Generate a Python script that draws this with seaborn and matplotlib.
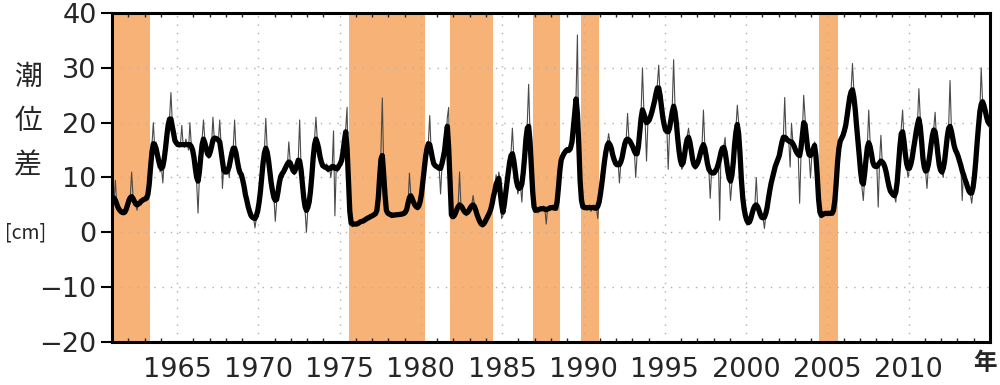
import numpy as np
import pandas as pd
import matplotlib
matplotlib.use("Agg")
import matplotlib.pyplot as plt
import seaborn as sns

# monthly tide level difference [cm], one row per year, Jan..Dec
v1961_1969 = [
    [6.5, 6.0, 9.5, 5.0, 4.5, 4.0, 3.8, 3.5, 3.6, 3.4, 4.0, 5.0],
    [6.0, 6.5, 11.0, 6.5, 5.5, 5.0, 4.0, 5.5, 5.0, 5.5, 6.0, 6.0],
    [6.0, 6.2, 6.5, 8.0, 12.0, 16.0, 20.0, 15.5, 16.5, 13.0, 14.0, 11.0],
    [12.0, 9.0, 13.0, 15.0, 18.0, 20.0, 21.0, 25.5, 20.0, 17.0, 16.0, 17.0],
    [16.0, 15.5, 16.0, 19.5, 16.0, 15.5, 17.0, 16.0, 15.0, 20.0, 16.0, 15.0],
    [14.0, 12.0, 9.0, 3.5, 10.0, 14.0, 17.0, 20.5, 17.0, 15.0, 14.0, 13.5],
    [14.0, 16.0, 21.0, 17.0, 17.5, 17.0, 16.5, 20.5, 16.0, 8.0, 12.0, 11.0],
    [11.0, 12.0, 10.0, 13.0, 15.0, 15.5, 20.5, 15.0, 13.0, 11.0, 11.0, 10.5],
    [10.0, 8.0, 7.0, 5.5, 5.0, 3.5, 3.0, 2.5, 2.8, 0.8, 2.5, 4.0],
]
v1970_1979 = [
    [5.0, 7.0, 10.0, 13.0, 15.0, 20.8, 15.5, 13.0, 11.0, 9.0, 7.0, 6.5],
    [2.0, 5.5, 7.0, 9.5, 10.5, 11.0, 10.0, 11.5, 12.0, 12.5, 16.5, 13.0],
    [12.0, 11.0, 10.5, 11.0, 12.5, 13.5, 20.5, 12.0, 9.0, 6.0, 4.0, 0.0],
    [4.0, 5.5, 7.0, 10.0, 14.0, 17.0, 21.0, 17.0, 15.0, 14.0, 12.5, 12.0],
    [12.0, 11.5, 12.5, 11.0, 12.0, 10.0, 12.0, 18.5, 3.0, 12.0, 11.0, 12.5],
    [12.0, 13.0, 14.0, 17.0, 19.0, 22.8, 8.0, 2.0, 1.5, 1.0, 1.5, 1.5],
    [1.5, 1.5, 2.0, 1.8, 2.0, 2.2, 2.0, 2.5, 2.5, 2.7, 2.8, 3.0],
    [3.0, 3.2, 3.5, 3.5, 5.0, 10.0, 15.0, 24.5, 12.0, 5.0, 3.5, 3.5],
    [3.0, 3.5, 2.8, 3.2, 3.0, 3.5, 3.2, 3.0, 3.5, 3.3, 3.0, 3.5],
    [3.5, 4.0, 5.0, 10.8, 7.0, 6.0, 5.5, 5.0, 4.5, 4.5, 4.5, 5.5],
]
v1980_1989 = [
    [7.0, 9.0, 12.0, 14.0, 15.5, 16.5, 21.3, 15.0, 13.0, 12.0, 12.5, 12.0],
    [12.0, 11.5, 7.0, 12.0, 14.0, 15.0, 16.0, 21.0, 22.8, 4.0, 2.5, 3.0],
    [2.5, 3.5, 4.0, 5.0, 11.0, 5.0, 4.5, 4.0, 3.5, 3.0, 3.5, 4.0],
    [4.5, 5.0, 6.7, 5.0, 4.0, 3.0, 2.5, 2.0, 1.3, 1.0, 1.5, 2.0],
    [2.5, 3.0, 3.5, 4.0, 5.0, 6.5, 8.0, 10.5, 8.0, 11.0, 9.5, 2.5],
    [3.0, 5.0, 7.0, 9.0, 11.0, 13.0, 14.5, 19.0, 14.0, 11.0, 9.0, 7.0],
    [8.0, 8.5, 5.5, 10.0, 14.0, 17.0, 20.0, 27.0, 18.0, 12.0, 6.0, 4.0],
    [4.0, 4.5, 3.5, 4.2, 4.5, 4.0, 4.8, 4.2, 1.5, 4.5, 4.0, 4.5],
    [4.5, 5.0, 4.2, 4.5, 4.0, 8.0, 12.0, 14.0, 13.5, 15.0, 14.0, 15.5],
    [15.0, 14.5, 16.5, 15.0, 18.0, 23.0, 25.0, 36.0, 15.0, 8.0, 5.0, 4.5],
]
v1990_1999 = [
    [4.5, 5.0, 4.0, 4.5, 5.0, 3.8, 4.5, 5.0, 4.2, 4.5, 2.5, 5.5],
    [6.5, 9.0, 11.0, 13.0, 15.0, 16.0, 18.0, 16.5, 15.0, 14.5, 13.0, 12.5],
    [12.0, 13.0, 9.0, 12.5, 13.5, 15.0, 16.5, 17.0, 21.7, 17.0, 16.5, 16.0],
    [15.5, 15.0, 10.0, 14.0, 15.0, 18.0, 22.0, 30.0, 22.5, 20.0, 13.0, 20.0],
    [20.5, 21.0, 22.0, 23.0, 24.0, 25.0, 27.0, 30.5, 25.0, 23.0, 21.0, 19.0],
    [18.0, 19.0, 11.5, 18.5, 20.0, 23.0, 31.5, 23.0, 20.0, 17.0, 14.5, 13.0],
    [11.5, 12.0, 14.0, 16.0, 17.5, 19.0, 17.0, 15.0, 13.0, 12.0, 11.5, 12.0],
    [13.0, 13.5, 14.5, 16.0, 22.3, 16.0, 14.0, 12.0, 11.5, 6.2, 11.0, 10.8],
    [10.5, 11.0, 12.0, 13.5, 2.2, 15.5, 15.0, 15.5, 17.3, 13.0, 10.5, 10.0],
    [5.8, 9.0, 13.0, 16.0, 19.0, 23.2, 20.0, 14.0, 9.0, 6.0, 4.0, 3.0],
]
v2000_2009 = [
    [2.0, 1.6, 1.5, 2.5, 3.5, 4.5, 5.0, 10.0, 5.0, 4.0, 3.0, 2.5],
    [2.7, 0.7, 3.0, 4.5, 6.0, 8.0, 9.0, 10.0, 11.0, 12.0, 13.0, 14.0],
    [13.0, 15.0, 17.0, 17.5, 24.6, 17.0, 17.0, 16.5, 11.9, 19.9, 16.5, 15.5],
    [15.0, 14.5, 14.0, 5.3, 14.0, 18.0, 25.0, 21.0, 17.0, 14.5, 14.0, 9.9],
    [14.0, 15.5, 16.5, 16.0, 10.0, 5.0, 3.0, 2.7, 3.5, 3.2, 3.5, 3.4],
    [3.5, 3.3, 3.5, 3.4, 3.5, 5.0, 9.0, 13.0, 16.5, 17.0, 16.5, 18.0],
    [18.0, 19.5, 21.0, 23.0, 25.0, 26.0, 30.8, 26.0, 22.0, 19.5, 17.0, 14.0],
    [11.0, 8.2, 5.8, 10.0, 14.0, 16.0, 22.3, 16.5, 14.0, 12.5, 12.0, 12.0],
    [12.0, 4.6, 13.0, 17.7, 12.5, 13.0, 12.0, 11.0, 9.5, 8.0, 7.5, 7.0],
    [7.0, 6.5, 5.5, 9.0, 12.0, 16.0, 19.0, 22.3, 17.0, 14.0, 12.0, 10.0],
]
v2010_2014 = [
    [11.5, 12.0, 13.5, 15.0, 17.0, 18.0, 20.0, 26.2, 21.0, 16.0, 13.0, 11.5],
    [11.0, 8.0, 12.0, 14.0, 16.0, 18.0, 19.0, 21.9, 17.0, 14.0, 12.0, 11.0],
    [11.0, 10.0, 13.0, 15.0, 18.0, 19.5, 27.7, 19.0, 17.0, 15.5, 14.5, 15.0],
    [14.0, 13.0, 12.0, 5.8, 11.5, 10.0, 9.0, 8.0, 7.5, 7.0, 5.3, 7.5],
    [10.0, 13.0, 16.0, 20.0, 22.0, 30.0, 24.0, 23.5, 22.0, 21.0, 20.0, 19.0],
]
first_year = 1961

# large meander periods (shaded)
band_start = [1959.7, 1975.55, 1981.76, 1986.92, 1989.87, 2004.48]
band_end = [1963.34, 1980.22, 1984.43, 1988.58, 1990.98, 2005.67]

x_ticks = [1965, 1970, 1975, 1980, 1985, 1990, 1995, 2000, 2005, 2010]
y_ticks = [-20, -10, 0, 10, 20, 30, 40]

sns.set_style("white")
plt.rcParams['font.family'] = ['DejaVu Sans', 'Noto Sans CJK JP']

rows = v1961_1969 + v1970_1979 + v1980_1989 + v1990_1999 + v2000_2009 + v2010_2014
vals = np.array(rows).ravel()
n_years = len(rows)
years = np.repeat(np.arange(first_year, first_year + n_years), 12)
months = np.tile(np.arange(1, 13), n_years)
df = pd.DataFrame({'t': years + (months - 0.5) / 12.0, 'monthly': vals})
# running smooth: 3-month median, then 3-month mean
df['smooth'] = (df['monthly'].rolling(3, center=True, min_periods=1).median()
                .rolling(3, center=True, min_periods=1).mean())

fig = plt.figure(figsize=(10, 3.85), dpi=100)
ax = fig.add_axes([0.112, 0.112, 0.878, 0.854])

for s, e in zip(band_start, band_end):
    ax.axvspan(s, e, color='#F7B277', lw=0, zorder=0)

for x in x_ticks:
    ax.axvline(x, color='#B0B0B0', lw=1, ls=(0, (1, 5)), zorder=1)
for y in y_ticks[1:-1]:
    ax.axhline(y, color='#B0B0B0', lw=1, ls=(0, (1, 5)), zorder=1)

sns.lineplot(data=df, x='t', y='monthly', ax=ax, color='#4a4a4a', lw=0.8, zorder=3)
sns.lineplot(data=df, x='t', y='smooth', ax=ax, color='black', lw=3.8, zorder=4)

ax.set_xlim(1961, 2015)
ax.set_ylim(-20, 40)
ax.set_xticks(x_ticks)
ax.set_yticks(y_ticks)
ax.set_yticklabels(['\u221220', '\u221210', '0', '10', '20', '30', '40'])
ax.set_xticks(np.arange(1961, 2015), minor=True)
ax.tick_params(axis='both', which='major', direction='out', length=8, width=1.5,
               labelsize=19.5, pad=3, color='black')
ax.tick_params(axis='x', which='minor', direction='in', length=3, width=1,
               top=True, bottom=True)
ax.tick_params(axis='x', which='major', top=False)
ax.tick_params(axis='y', left=True, right=False)
ax.set_xlabel('')
ax.set_ylabel('')
for sp in ax.spines.values():
    sp.set_visible(True)
    sp.set_linewidth(2.2)
    sp.set_color('black')

cjk = ['Noto Sans CJK JP', 'DejaVu Sans']
fig.text(0.028, 0.80, '潮', fontsize=20, ha='center', va='center', family=cjk)
fig.text(0.028, 0.685, '位', fontsize=20, ha='center', va='center', family=cjk)
fig.text(0.028, 0.57, '差', fontsize=20, ha='center', va='center', family=cjk)
fig.text(0.026, 0.395, '[cm]', fontsize=14, ha='center', va='center', family=cjk)
fig.text(0.985, 0.058, '年', fontsize=17, fontweight='bold', ha='center', va='center',
         family=cjk)

fig.savefig('out.png', dpi=100)
